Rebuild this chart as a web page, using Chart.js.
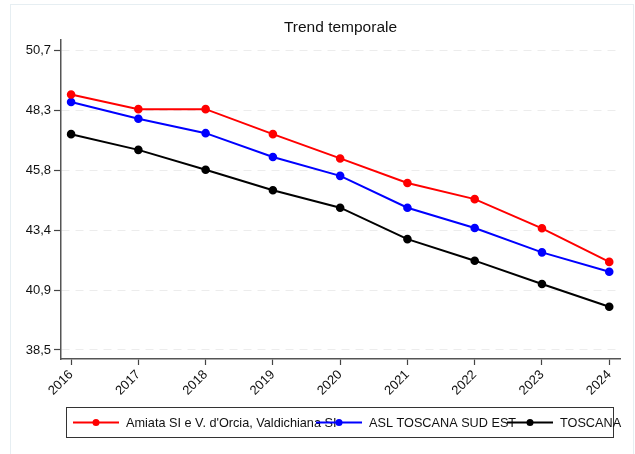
<!DOCTYPE html>
<html>
<head>
<meta charset="utf-8">
<script src="https://cdn.jsdelivr.net/npm/chart.js@4/dist/chart.umd.min.js"></script>
<style>
  html, body { margin: 0; padding: 0; background: #fff; }
  #wrap { width: 635px; height: 454px; position: relative; }
</style>
</head>
<body>
<div id="wrap"><canvas id="trend"></canvas></div>
<script>
// data
const years = [2016, 2017, 2018, 2019, 2020, 2021, 2022, 2023, 2024];
const amiata = [48.92, 48.32, 48.32, 47.30, 46.31, 45.31, 44.65, 43.46, 42.09];
const aslSudEst = [48.61, 47.93, 47.34, 46.37, 45.60, 44.30, 43.47, 42.48, 41.69];
const toscana = [47.30, 46.66, 45.85, 45.01, 44.30, 43.02, 42.14, 41.19, 40.26];
const yTicks = [38.5, 40.94, 43.38, 45.82, 48.26, 50.7];
const seriesNames = ['Amiata SI e V. d\'Orcia, Valdichiana SI', 'ASL TOSCANA SUD EST', 'TOSCANA'];
const seriesColors = ['#ff0000', '#0000ff', '#000000'];

const FONT = '"Liberation Sans", Arial, sans-serif';

function points(vals) {
  return years.map((y, i) => ({ x: y, y: vals[i] }));
}

// title over the plot area and the boxed legend at the bottom, stata style
const decorations = {
  id: 'decorations',
  beforeDraw(chart) {
    const ctx = chart.ctx;
    ctx.save();
    ctx.strokeStyle = '#e6eef2';
    ctx.lineWidth = 1;
    ctx.strokeRect(10.5, 4.5, 623, 460);
    ctx.restore();
  },
  afterDraw(chart) {
    const ctx = chart.ctx;
    const area = chart.chartArea;
    ctx.save();
    ctx.fillStyle = '#111';
    ctx.font = '15.5px ' + FONT;
    ctx.textAlign = 'center';
    ctx.textBaseline = 'middle';
    ctx.fillText('Trend temporale', (area.left + area.right) / 2, 28);

    // legend box
    ctx.strokeStyle = '#333';
    ctx.lineWidth = 1;
    ctx.strokeRect(66.5, 407.5, 547, 30);
    const starts = [73, 316, 507];
    ctx.font = '12.7px ' + FONT;
    ctx.textAlign = 'left';
    chart.data.datasets.forEach((ds, i) => {
      const x = starts[i];
      const y = 422.5;
      ctx.strokeStyle = ds.borderColor;
      ctx.lineWidth = 2;
      ctx.beginPath();
      ctx.moveTo(x, y);
      ctx.lineTo(x + 46, y);
      ctx.stroke();
      ctx.fillStyle = ds.borderColor;
      ctx.beginPath();
      ctx.arc(x + 23, y, 3.5, 0, Math.PI * 2);
      ctx.fill();
      ctx.fillStyle = '#111';
      ctx.fillText(ds.label, x + 53, y + 1);
    });
    ctx.restore();
  }
};

new Chart(document.getElementById('trend'), {
  type: 'line',
  data: {
    datasets: seriesNames.map((name, i) => ({
      label: name,
      data: points([amiata, aslSudEst, toscana][i]),
      borderColor: seriesColors[i],
      backgroundColor: seriesColors[i],
      borderWidth: 2,
      pointRadius: 3.3,
      pointHoverRadius: 3.3,
      tension: 0
    }))
  },
  options: {
    responsive: true,
    maintainAspectRatio: false,
    animation: false,
    layout: { padding: { left: 0, right: 15, top: 40, bottom: 49 } },
    plugins: {
      legend: { display: false },
      title: { display: false },
      tooltip: { enabled: false }
    },
    scales: {
      x: {
        type: 'linear',
        min: 2015.85,
        max: 2024.16,
        afterBuildTicks: (axis) => { axis.ticks = years.map(v => ({ value: v })); },
        afterFit: (axis) => { axis.height = 46; },
        ticks: {
          callback: (v) => String(v),
          maxRotation: 45,
          minRotation: 45,
          color: '#111',
          font: { family: FONT, size: 13 },
          padding: 2
        },
        grid: { drawOnChartArea: false, drawTicks: true, tickLength: 6, tickColor: '#444', tickWidth: 1.2 },
        border: { color: '#555', width: 1.5 }
      },
      y: {
        min: 38.13,
        max: 51.14,
        afterBuildTicks: (axis) => { axis.ticks = yTicks.map(v => ({ value: v })); },
        afterFit: (axis) => { axis.width = 61; },
        ticks: {
          callback: (v) => v.toFixed(1).replace('.', ','),
          color: '#111',
          font: { family: FONT, size: 13 },
          padding: 3
        },
        grid: { color: '#ececec', lineWidth: 1, drawTicks: true, tickLength: 7, tickColor: '#444', tickWidth: 1.2, tickBorderDash: [] },
        border: { color: '#555', width: 1.5, dash: [8, 6] }
      }
    }
  },
  plugins: [decorations]
});
</script>
</body>
</html>
